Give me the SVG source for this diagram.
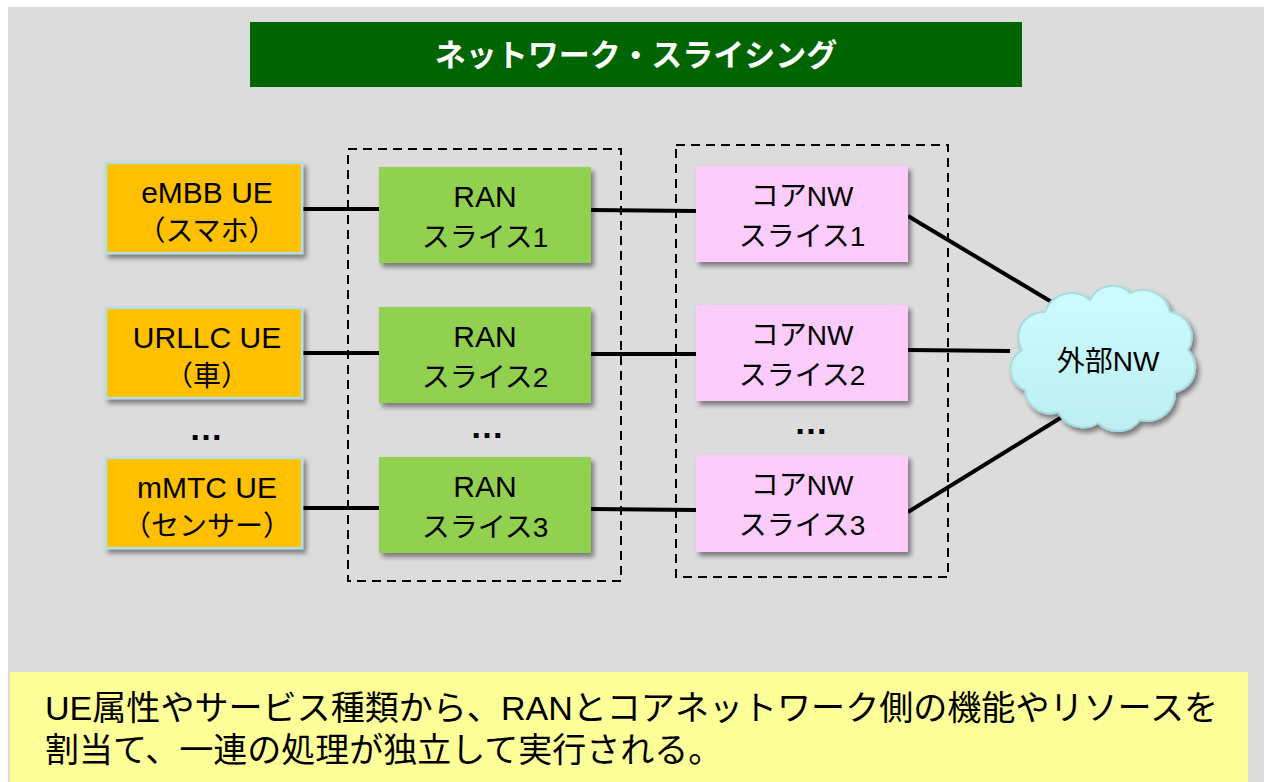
<svg xmlns="http://www.w3.org/2000/svg" width="1264" height="782" viewBox="0 0 1264 782">
<defs>
<filter id="sh" x="-10%" y="-10%" width="130%" height="140%">
<feDropShadow dx="3" dy="4" stdDeviation="2.5" flood-color="#000" flood-opacity="0.45"/>
</filter>
<linearGradient id="cg" x1="0" y1="0" x2="0" y2="1">
<stop offset="0" stop-color="#ccfcfe"/>
<stop offset="1" stop-color="#bdeef2"/>
</linearGradient>
</defs>
<style>
text{font-family:"Liberation Sans","Noto Sans CJK JP",sans-serif;fill:#000;text-anchor:middle}
.node{font-size:28px}
.lat{font-size:30px}
.ue{fill:#ffc000;stroke:#b7dde0;stroke-width:2.5}
.ran{fill:#92d050}
.core{fill:#fcccfc}
.dash{fill:none;stroke:#000;stroke-width:2;stroke-dasharray:9,6}
.conn line{stroke:#000;stroke-width:4}
.dots{font-size:34px;font-weight:bold}
</style>
<rect x="0" y="0" width="1264" height="782" fill="#fff"/>
<rect x="8" y="7" width="1256" height="775" fill="#dcdcdc"/>
<g id="title">
<rect x="250" y="22" width="772" height="65" fill="#006400"/>
<text x="636" y="66" style="font-size:31px;font-weight:bold;fill:#fff">ネットワーク・スライシング</text>
</g>
<g id="group-ran"><rect class="dash" x="348" y="149" width="273" height="432"/></g>
<g id="group-core"><rect class="dash" x="676" y="145" width="272" height="432"/></g>
<g class="conn" id="connectors">
<line x1="302" y1="209" x2="379" y2="209"/>
<line x1="591" y1="210" x2="696" y2="211"/>
<line x1="908" y1="216" x2="1055" y2="304"/>
<line x1="302" y1="353" x2="379" y2="353"/>
<line x1="591" y1="354" x2="696" y2="354"/>
<line x1="908" y1="350" x2="1010" y2="351"/>
<line x1="302" y1="508" x2="379" y2="508"/>
<line x1="591" y1="509" x2="696" y2="510"/>
<line x1="908" y1="512" x2="1062" y2="417"/>
</g>
<g id="ue1"><rect class="ue" x="106" y="163" width="196" height="90" filter="url(#sh)"/><text class="node lat" x="207" y="203">eMBB UE</text><text class="node" x="207" y="241">（スマホ）</text></g>
<g id="ue2"><rect class="ue" x="106" y="308" width="196" height="90" filter="url(#sh)"/><text class="node lat" x="207" y="348">URLLC UE</text><text class="node" x="207" y="386">（車）</text></g>
<g id="ue3"><rect class="ue" x="106" y="458" width="196" height="90" filter="url(#sh)"/><text class="node lat" x="207" y="498">mMTC UE</text><text class="node" x="207" y="536">（センサー）</text></g>
<g id="ran1"><rect class="ran" x="379" y="167" width="212" height="96" filter="url(#sh)"/><text class="node lat" x="485" y="207">RAN</text><text class="node" x="485" y="247">スライス1</text></g>
<g id="ran2"><rect class="ran" x="379" y="307" width="212" height="96" filter="url(#sh)"/><text class="node lat" x="485" y="347">RAN</text><text class="node" x="485" y="387">スライス2</text></g>
<g id="ran3"><rect class="ran" x="379" y="457" width="212" height="96" filter="url(#sh)"/><text class="node lat" x="485" y="497">RAN</text><text class="node" x="485" y="537">スライス3</text></g>
<g id="core1"><rect class="core" x="696" y="166" width="212" height="96" filter="url(#sh)"/><text class="node" x="802" y="206">コアNW</text><text class="node" x="802" y="246">スライス1</text></g>
<g id="core2"><rect class="core" x="696" y="305" width="212" height="96" filter="url(#sh)"/><text class="node" x="802" y="345">コアNW</text><text class="node" x="802" y="385">スライス2</text></g>
<g id="core3"><rect class="core" x="696" y="455" width="212" height="97" filter="url(#sh)"/><text class="node" x="802" y="495">コアNW</text><text class="node" x="802" y="535">スライス3</text></g>
<g id="dots">
<text class="dots" x="206" y="440">…</text>
<text class="dots" x="487" y="438">…</text>
<text class="dots" x="811" y="434">…</text>
</g>
<g id="cloud">
<path d="M1025,390 A22,22 0 0 1 1022,350 A25,25 0 0 1 1045,312 A28,28 0 0 1 1090,300 A25,25 0 0 1 1130,293 A28,28 0 0 1 1170,312 A25,25 0 0 1 1188,350 A25,25 0 0 1 1175,392 A28,28 0 0 1 1140,420 A28,28 0 0 1 1098,423 A28,28 0 0 1 1058,412 A25,25 0 0 1 1025,390 Z" fill="url(#cg)" stroke="#a6dcdf" stroke-width="2" filter="url(#sh)"/>
<text class="node" x="1108" y="371">外部NW</text>
</g>
<g id="note">
<rect x="10" y="672" width="1238" height="110" fill="#ffff99"/>
<text x="45" y="720" style="font-size:34px;text-anchor:start" textLength="1173" lengthAdjust="spacingAndGlyphs">UE属性やサービス種類から、RANとコアネットワーク側の機能やリソースを</text>
<text x="45" y="762" style="font-size:34px;text-anchor:start">割当て、一連の処理が独立して実行される。</text>
</g>
</svg>
